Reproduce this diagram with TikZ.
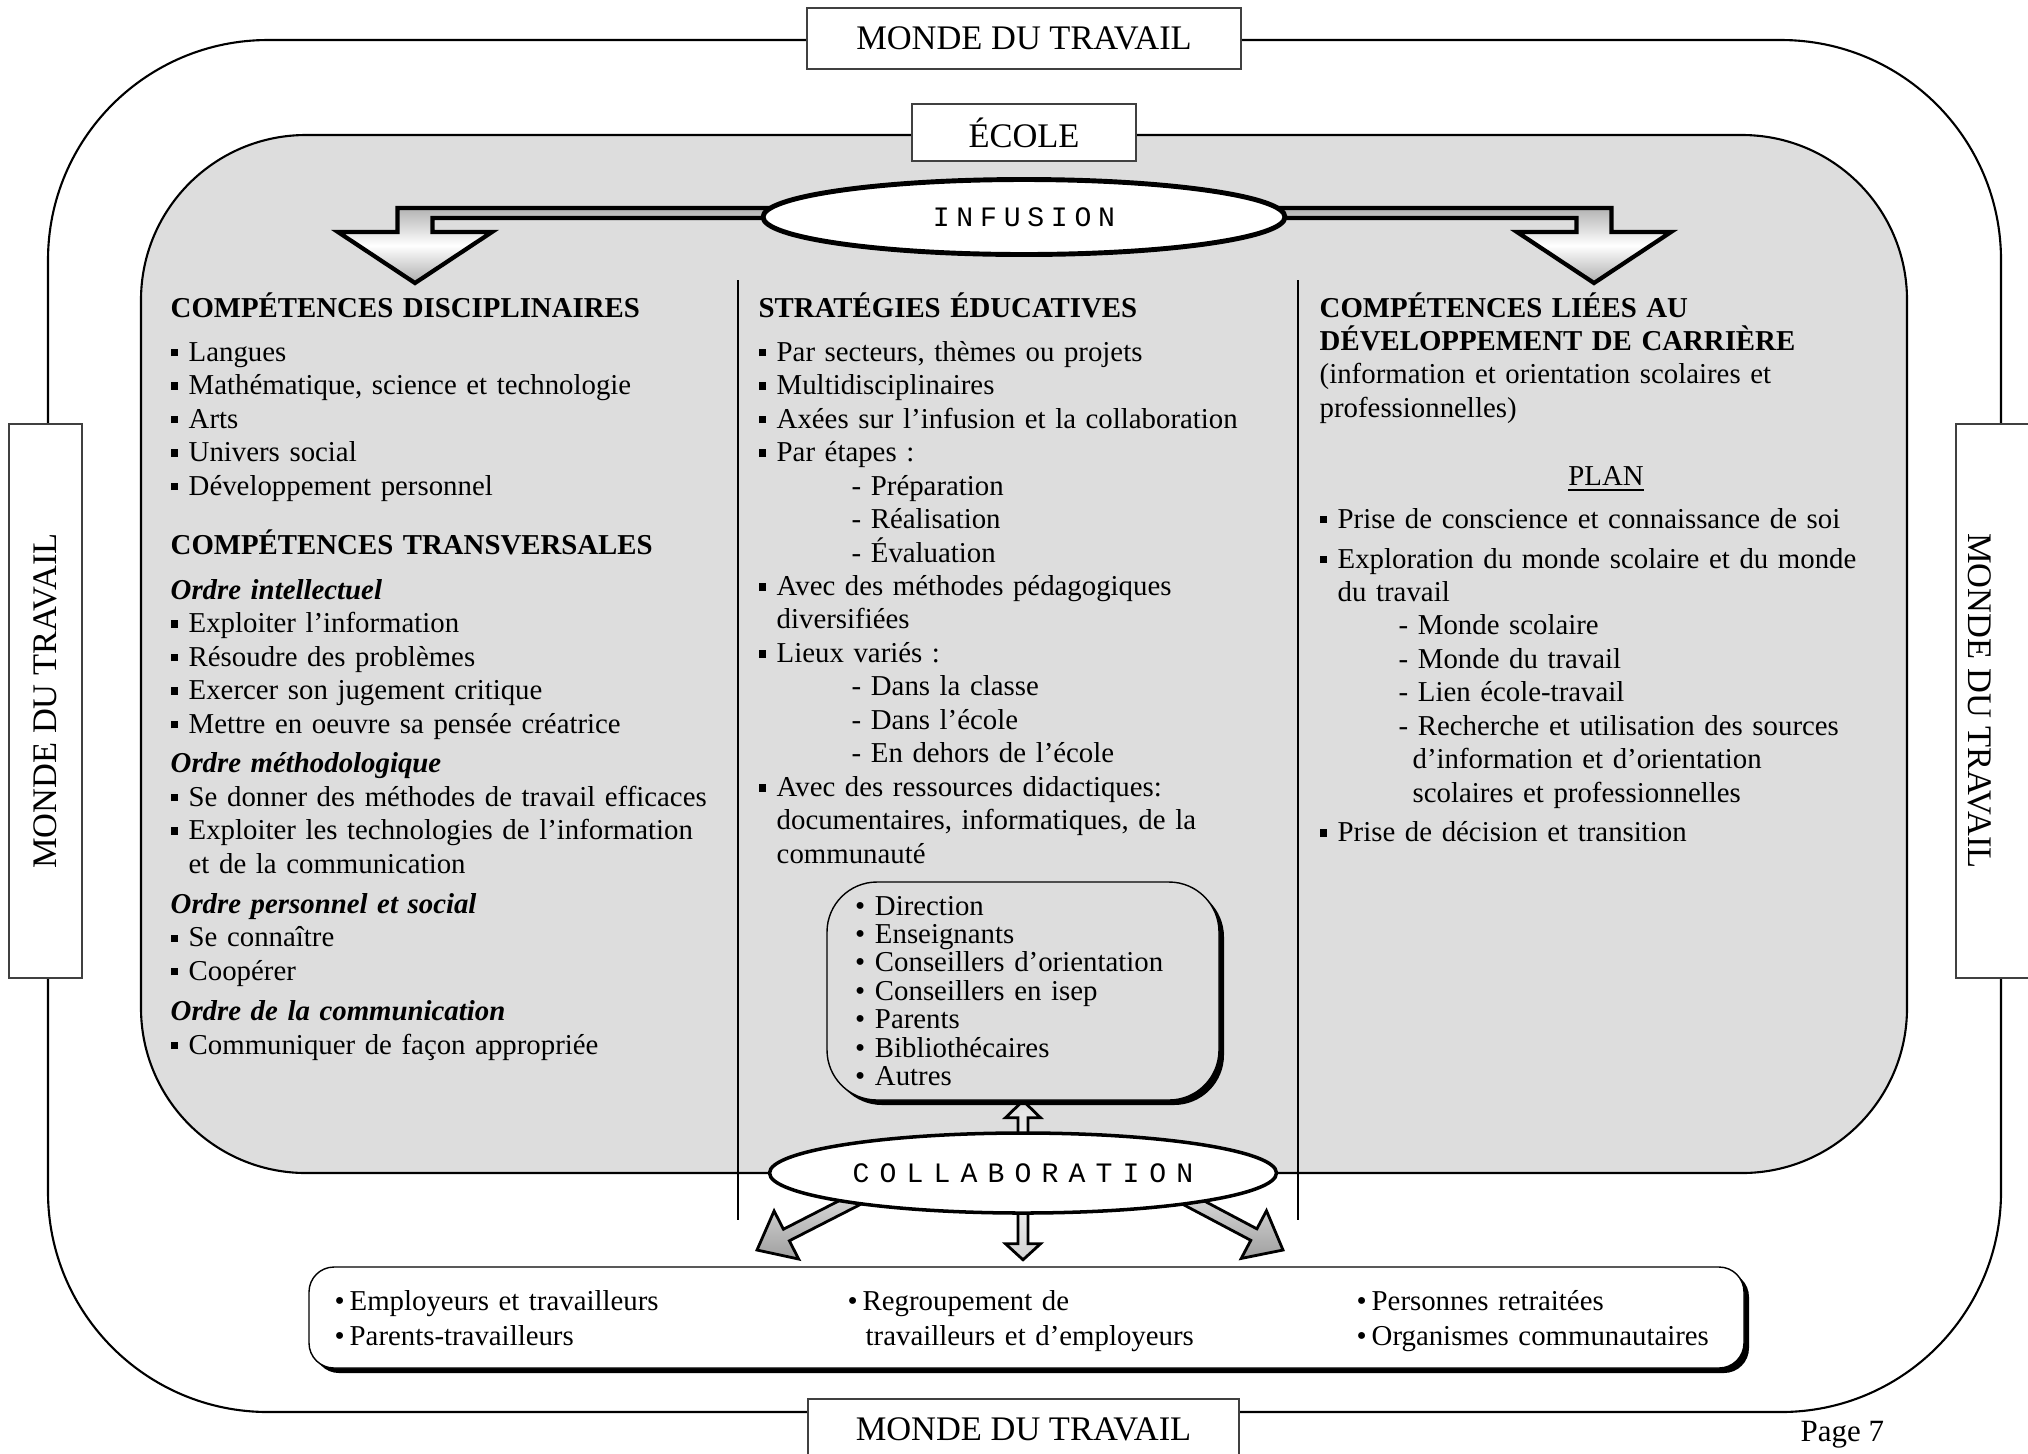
\documentclass[tikz,border=0pt]{standalone}
\usepackage{fontspec}
\setmainfont{Liberation Serif}
\newfontfamily\infufont[LetterSpace=24]{Liberation Mono}
\newfontfamily\collabfont[LetterSpace=36]{Liberation Mono}
\usetikzlibrary{shapes.geometric, shadows, calc}

\definecolor{ecolegray}{HTML}{DDDDDD}
\pgfdeclarelayer{back}
\pgfdeclarelayer{mid}
\pgfsetlayers{back,mid,main}

\newcommand\bodyfont{\fontsize{8.2}{9.53}\selectfont}
\newcommand\sqb{\makebox[1.8mm][l]{\rule[1.4pt]{2.1pt}{2.1pt}}}
\newcommand\dbul[1][1.5mm]{\makebox[#1][l]{•}}
% fat arrow: name, start, tip, shaft half width, head half width, head length
\newcommand\fatarrow[7][]{%
  \coordinate (#2-b) at ($(#4)!#7!(#3)$);
  \draw[#1] ($(#3)!#5!90:(#4)$) -- ($(#2-b)!#5!90:(#4)$) -- ($(#2-b)!#6!90:(#4)$)
    -- (#4) -- ($(#2-b)!#6!-90:(#4)$) -- ($(#2-b)!#5!-90:(#4)$) -- ($(#3)!#5!-90:(#4)$) -- cycle;}

\begin{document}
\begin{tikzpicture}[
      x=0.1mm, y=-0.1mm,
      every node/.style={inner sep=0pt},
      mondebox/.style={draw=black!75, line width=0.6pt, fill=white, minimum height=6.1mm,
                       font=\fontsize{9.8}{11}\selectfont},
      coltext/.style={anchor=base west, text width=6.5cm, align=left, font=\bodyfont},
      bottomtext/.style={anchor=base west, text width=5cm, align=left,
                         font=\fontsize{8.2}{9.96}\selectfont},
      pipe/.style={draw, line width=1.2pt, line join=miter,
                   top color=gray!60, bottom color=gray!65, middle color=white},
      shadowed/.style={drop shadow={shadow xshift=0.5mm, shadow yshift=-0.5mm, fill=black, opacity=1}},
      smallarrow/.style={draw, line width=0.8pt, line join=miter}
   ]
  \useasboundingbox (0,0) rectangle (2028,1453);

  % frames
  \begin{pgfonlayer}{back}
    \draw[line width=0.6pt, rounded corners=22mm] (48,40) rectangle (2001,1412);
    \draw[line width=0.6pt, fill=ecolegray, rounded corners=16.5mm] (141,135) rectangle (1907,1173);
    \draw[line width=0.6pt] (738,280) -- (738,1220) (1298,280) -- (1298,1220);
  \end{pgfonlayer}

  \node[mondebox, minimum width=43.4mm] (mtop) at (1024,38.5) {MONDE DU TRAVAIL};
  \node[mondebox, minimum width=43.1mm] (mbot) at (1023.5,1429.5) {MONDE DU TRAVAIL};
  \node[mondebox, rotate=90, minimum width=55.4mm, minimum height=7.3mm] (mleft) at (45.5,701) {MONDE DU TRAVAIL};
  \node[mondebox, rotate=-90, minimum width=55.4mm, text height=6.1mm, text depth=1.2mm] (mright) at (1992.5,701) {MONDE DU TRAVAIL};
  \node[mondebox, minimum width=22.4mm, minimum height=5.7mm] (ecole) at (1024,132.5) {ÉCOLE};

  \node[ellipse, draw, line width=1.4pt, fill=white, minimum width=52.2mm, minimum height=7.5mm,
        font={\fontsize{8}{9}\infufont}] (infusion) at (1024,217) {INFUSION};
  \coordinate (lefttip) at (415,283);
  \coordinate (righttip) at (1594,283);

  % three columns
  \node[coltext] (disc) at (170,317) {%
    \textbf{COMPÉTENCES DISCIPLINAIRES}\\[3pt]
    \sqb Langues\\
    \sqb Mathématique, science et technologie\\
    \sqb Arts\\
    \sqb Univers social\\
    \sqb Développement personnel\\[7.3pt]
    \textbf{COMPÉTENCES TRANSVERSALES}\\[3.3pt]
    \textbf{\textit{Ordre intellectuel}}\\
    \sqb Exploiter l’information\\
    \sqb Résoudre des problèmes\\
    \sqb Exercer son jugement critique\\
    \sqb Mettre en oeuvre sa pensée créatrice\\[1.7pt]
    \textbf{\textit{Ordre méthodologique}}\\
    \sqb Se donner des méthodes de travail efficaces\\
    \sqb Exploiter les technologies de l’information\\
    \hspace*{1.8mm}et de la communication\\[1.9pt]
    \textbf{\textit{Ordre personnel et social}}\\
    \sqb Se connaître\\
    \sqb Coopérer\\[1.9pt]
    \textbf{\textit{Ordre de la communication}}\\
    \sqb Communiquer de façon appropriée};

  \node[coltext] (strat) at (758,317) {%
    \textbf{STRATÉGIES ÉDUCATIVES}\\[3pt]
    \sqb Par secteurs, thèmes ou projets\\
    \sqb Multidisciplinaires\\
    \sqb Axées sur l’infusion et la collaboration\\
    \sqb Par étapes :\\
    \hspace*{9.3mm}- Préparation\\
    \hspace*{9.3mm}- Réalisation\\
    \hspace*{9.3mm}- Évaluation\\
    \sqb Avec des méthodes pédagogiques\\
    \hspace*{1.8mm}diversifiées\\
    \sqb Lieux variés :\\
    \hspace*{9.3mm}- Dans la classe\\
    \hspace*{9.3mm}- Dans l’école\\
    \hspace*{9.3mm}- En dehors de l’école\\
    \sqb Avec des ressources didactiques:\\
    \hspace*{1.8mm}documentaires, informatiques, de la\\
    \hspace*{1.8mm}communauté};

  \node[coltext] (carr) at (1319,317) {%
    \textbf{COMPÉTENCES LIÉES AU}\\
    \textbf{DÉVELOPPEMENT DE CARRIÈRE}\\
    (information et orientation scolaires et\\
    professionnelles)};
  \node[anchor=base, font=\bodyfont] (plan) at (1606,485) {\underline{PLAN}};
  \node[coltext] (planlist) at (1319,528) {%
    \sqb Prise de conscience et connaissance de soi\\[1.85pt]
    \sqb Exploration du monde scolaire et du monde\\
    \hspace*{1.8mm}du travail\\
    \hspace*{7.9mm}- Monde scolaire\\
    \hspace*{7.9mm}- Monde du travail\\
    \hspace*{7.9mm}- Lien école-travail\\
    \hspace*{7.9mm}- Recherche et utilisation des sources\\
    \hspace*{9.3mm}d’information et d’orientation\\
    \hspace*{9.3mm}scolaires et professionnelles\\[1.6pt]
    \sqb Prise de décision et transition};

  % school partners
  \node[draw, shadowed, rounded corners=5mm, fill=ecolegray, text width=33.6mm, inner xsep=2.8mm,
        minimum height=21.8mm, align=left,
        font={\fontsize{8.2}{8.1}\selectfont\lineskiplimit=-10pt}] (direction) at (1023,991) {%
    \dbul[2mm]Direction\\
    \dbul[2mm]Enseignants\\
    \dbul[2mm]Conseillers d’orientation\\
    \dbul[2mm]Conseillers en isep\\
    \dbul[2mm]Parents\\
    \dbul[2mm]Bibliothécaires\\
    \dbul[2mm]Autres};

  \node[ellipse, draw, line width=1pt, fill=white, minimum width=50.7mm, minimum height=8mm,
        font={\fontsize{8}{9}\collabfont}] (collab) at (1023,1173) {COLLABORATION};

  % outside partners
  \node[draw, shadowed, rounded corners=2.5mm, fill=white, minimum width=143.5mm,
        minimum height=10.1mm] (partners) at (1026.5,1317.5) {};
  \node[bottomtext] (employeurs) at (334,1310) {\dbul Employeurs et travailleurs\\ \dbul Parents-travailleurs};
  \node[bottomtext] (regroupement) at (847,1310) {\dbul Regroupement de\\ \hspace*{1.8mm}travailleurs et d’employeurs};
  \node[bottomtext] (retraites) at (1356,1310) {\dbul Personnes retraitées\\ \dbul Organismes communautaires};

  \node[anchor=base west, font=\fontsize{8.8}{10}\selectfont] (page) at (1800,1441) {Page 7};

  % arrows
  \coordinate (cL0) at ($(collab.center)+(-90,-13)$);
  \coordinate (cL1) at ($(collab.center)+(-266,77)$);
  \coordinate (cR0) at ($(collab.center)+(90,-13)$);
  \coordinate (cR1) at ($(collab.center)+(260,77)$);
  \coordinate (cD1) at ($(collab.south)+(0,45)$);
  \begin{pgfonlayer}{mid}
    \draw[pipe] ($(infusion.center)+(0,-9)$) -| ($(lefttip)+(-17.5,-51)$) -- ++(-59.5,0) -- (lefttip)
      -- ++(77,-51) -- ++(-59.5,0) |- ($(infusion.center)+(0,1)$) -- cycle;
    \draw[pipe] ($(infusion.center)+(0,-9)$) -| ($(righttip)+(17.5,-51)$) -- ++(59.5,0) -- (righttip)
      -- ++(-77,-51) -- ++(59.5,0) |- ($(infusion.center)+(0,1)$) -- cycle;
    \fatarrow[smallarrow, top color=gray!25, bottom color=white]{up}{collab.center}{direction.south}{0.5mm}{1.75mm}{1.7mm}
    \fatarrow[smallarrow, top color=white, bottom color=gray!35]{down}{collab.center}{cD1}{0.5mm}{1.75mm}{1.6mm}
    \fatarrow[smallarrow, top color=white, bottom color=gray!75]{left}{cL0}{cL1}{0.65mm}{2.7mm}{3.3mm}
    \fatarrow[smallarrow, top color=white, bottom color=gray!75]{right}{cR0}{cR1}{0.65mm}{2.7mm}{3.3mm}
  \end{pgfonlayer}
\end{tikzpicture}
\end{document}
